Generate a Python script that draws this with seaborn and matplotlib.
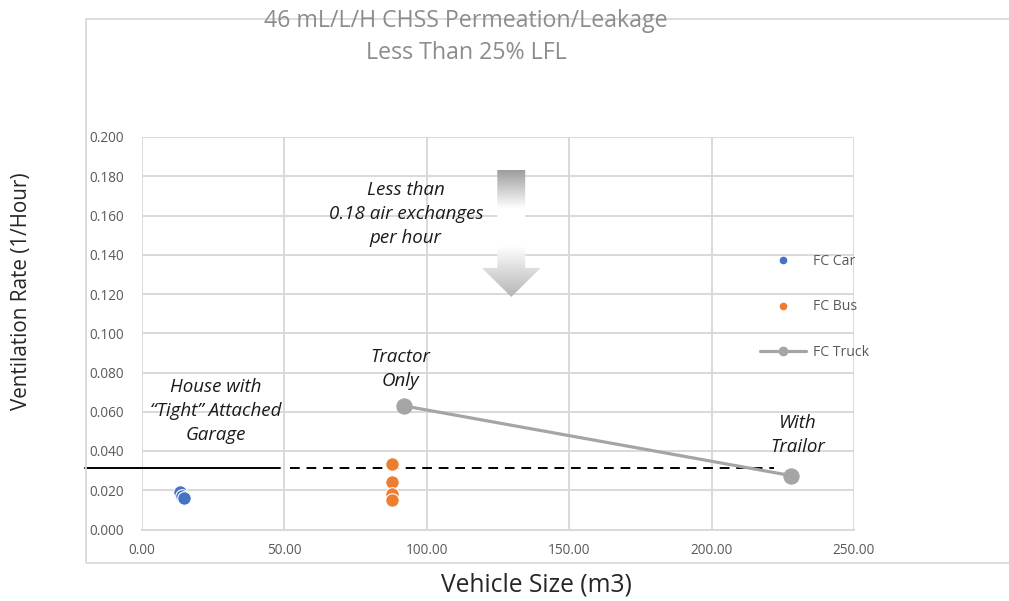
import numpy as np
import matplotlib
matplotlib.use("Agg")
import matplotlib.pyplot as plt
from matplotlib.lines import Line2D
from matplotlib.patches import Polygon, Rectangle
from matplotlib.colors import LinearSegmentedColormap
import seaborn as sns
import pandas as pd

# Data
car_size = [13.5, 14.2, 15.0]
car_rate = [0.0193, 0.0173, 0.0163]
bus_size = [87.8, 87.8, 87.8, 87.8]
bus_rate = [0.0336, 0.0240, 0.0183, 0.0150]
truck_size = [92.0, 227.8]
truck_rate = [0.0630, 0.0275]
limit_rate = 0.0311

x_ticks = [0, 50, 100, 150, 200, 250]
y_ticks = [0.0, 0.02, 0.04, 0.06, 0.08, 0.10, 0.12, 0.14, 0.16, 0.18, 0.20]

car_df = pd.DataFrame({"size": car_size, "rate": car_rate})
bus_df = pd.DataFrame({"size": bus_size, "rate": bus_rate})
truck_df = pd.DataFrame({"size": truck_size, "rate": truck_rate})

sns.set_style("white")
plt.rcParams['font.family'] = ['Open Sans', 'DejaVu Sans']

c_car = "#4472C4"
c_bus = "#ED7D31"
c_truck = "#A5A5A5"
grid_c = "#D9D9D9"
txt_c = "#595959"

fig = plt.figure(figsize=(10.09, 6.01), dpi=100)
ax = fig.add_axes([141.7 / 1009, 1 - 529.5 / 601, (854 - 141.7) / 1009, (529.5 - 137) / 601])

# outer chart border
fig.patches.append(Rectangle((86 / 1009, 1 - 563 / 601), 0.99, (563 - 19) / 601,
                             transform=fig.transFigure, fill=False,
                             edgecolor=grid_c, linewidth=1.3, zorder=0))

sns.scatterplot(data=car_df, x="size", y="rate", color=c_car, s=95,
                edgecolor="white", linewidth=0.8, ax=ax, zorder=4)
sns.scatterplot(data=bus_df, x="size", y="rate", color=c_bus, s=95,
                edgecolor="white", linewidth=0.8, ax=ax, zorder=4)
sns.lineplot(data=truck_df, x="size", y="rate", color=c_truck, linewidth=2.3,
             marker="o", markersize=11, markeredgecolor=c_truck, ax=ax, zorder=4)

ax.set_xlim(0, 250)
ax.set_ylim(0, 0.2)
ax.set_xticks(x_ticks)
ax.set_yticks(y_ticks)
ax.set_xticklabels([f"{v:.2f}" for v in x_ticks], color=txt_c, fontsize=9.8)
ax.set_yticklabels([f"{v:.3f}" for v in y_ticks], color=txt_c, fontsize=9.8)
ax.tick_params(axis="y", length=0, pad=13)
ax.tick_params(axis="x", length=0, pad=10)
ax.grid(True, color=grid_c, linewidth=1.4)
ax.set_axisbelow(True)
for sp in ax.spines.values():
    sp.set_visible(False)
ax.spines["bottom"].set_visible(True)
ax.spines["bottom"].set_color(grid_c)
ax.spines["bottom"].set_linewidth(1.4)
ax.set_xlabel("")
ax.set_ylabel("")

fig.text(536 / 1009, 1 - 585 / 601, "Vehicle Size (m3)", ha="center", va="center",
         fontsize=17.7, color="#262626")
fig.text(22 / 1009, 1 - 291 / 601, "Ventilation Rate (1/Hour)", ha="center",
         va="center", rotation=90, fontsize=14.9, color="#262626")

# limit lines (extend past the left edge like the original shapes)
ax.plot([-19.9, 48.5], [limit_rate, limit_rate], color="black", linewidth=1.4,
        clip_on=False, zorder=3)
ax.plot([52, 222], [limit_rate, limit_rate], color="black", linewidth=1.4,
        linestyle=(0, (5, 3.5)), clip_on=False, zorder=3)

# gradient arrow
ax_x, sw, hw = 129.7, 4.9, 10.3
y_top, y_head, y_tip = 0.1832, 0.1333, 0.1185
arrow_pts = [(ax_x - sw, y_top), (ax_x + sw, y_top), (ax_x + sw, y_head),
             (ax_x + hw, y_head), (ax_x, y_tip), (ax_x - hw, y_head),
             (ax_x - sw, y_head)]
arrow = Polygon(arrow_pts, closed=True, facecolor="none", edgecolor="none",
                transform=ax.transData)
ax.add_patch(arrow)
grad_cmap = LinearSegmentedColormap.from_list(
    "g", [(0, "#9E9E9E"), (0.3, "#FFFFFF"), (0.6, "#FFFFFF"), (1, "#B5B5B5")])
grad = np.linspace(0, 1, 200).reshape(-1, 1)
im = ax.imshow(grad, extent=[ax_x - hw, ax_x + hw, y_tip, y_top], origin="upper",
               aspect="auto", cmap=grad_cmap, zorder=3)
im.set_clip_path(arrow)
ax.set_xlim(0, 250)
ax.set_ylim(0, 0.2)

# annotations
ital = dict(style="italic", fontsize=13.5, color="#1A1A1A", ha="center",
            va="center", linespacing=1.42)
ax.text(92.7, 0.1608, "Less than\n0.18 air exchanges\nper hour", **ital)
ax.text(90.9, 0.0817, "Tractor\nOnly", **ital)
ax.text(26.0, 0.0604, "House with\n\u201cTight\u201d Attached\nGarage", **ital)
ax.text(230.1, 0.0482, "With\nTrailor", **ital)

# title
fig.text(466 / 1009, 1 - 21 / 601, "46 mL/L/H CHSS Permeation/Leakage",
         ha="center", va="center", fontsize=16.7, color="#8C8C8C")
fig.text(466 / 1009, 1 - 53 / 601, "Less Than 25% LFL",
         ha="center", va="center", fontsize=16.7, color="#8C8C8C")

# legend
handles = [
    Line2D([], [], linestyle="none", marker="o", color=c_car, markersize=4.5),
    Line2D([], [], linestyle="none", marker="o", color=c_bus, markersize=4.5),
    Line2D([], [], color=c_truck, linewidth=2.3, marker="o", markersize=6),
]
leg = ax.legend(handles, ["FC Car", "FC Bus", "FC Truck"], loc="center left",
                bbox_to_anchor=(747 / 1009, 1 - 307 / 601),
                bbox_transform=fig.transFigure, frameon=False, fontsize=10.1,
                labelspacing=2.2, handlelength=3.3, handletextpad=0.5)
for t in leg.get_texts():
    t.set_color(txt_c)

fig.savefig("out.png", dpi=100)
